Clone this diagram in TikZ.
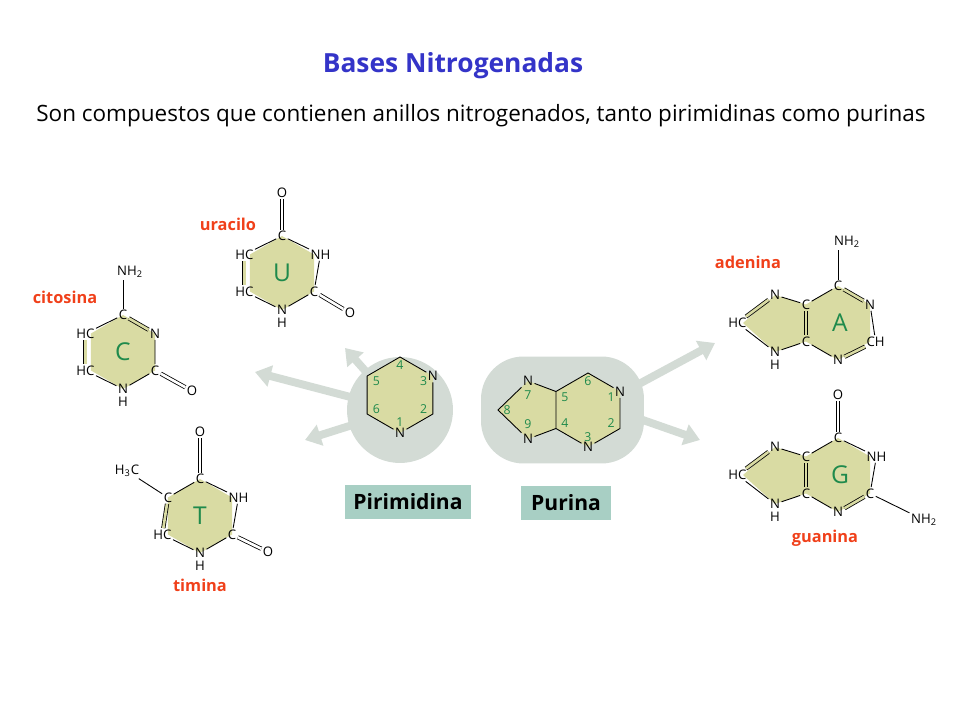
\documentclass[tikz,border=0pt]{standalone}
\usepackage{fontspec}
\setmainfont{Open Sans}
\usetikzlibrary{calc,positioning,arrows.meta}
\definecolor{ringfill}{HTML}{D9DBA3}
\definecolor{namered}{HTML}{F0401A}
\definecolor{letgreen}{HTML}{1F8A4C}
\definecolor{shade}{HTML}{D3DBD5}
\definecolor{boxfill}{HTML}{A8CFC4}
\definecolor{titleblue}{HTML}{3434C8}
\tikzset{
		>=Triangle,
		atom/.style={inner sep=0.7pt,font=\fontsize{7.5}{7.5}\selectfont},
		letter/.style={text=letgreen,font=\fontsize{14}{14}\selectfont},
		num/.style={text=letgreen,inner sep=0pt,font=\fontsize{7}{7}\selectfont},
		bond/.style={draw=black,line width=0.5pt},
		dbl/.style={draw=black,double=ringfill,double distance=1.5pt,line width=0.45pt},
		dblo/.style={draw=black,double=white,double distance=1.5pt,line width=0.45pt},
		basename/.style={text=namered,font=\fontsize{9.3}{9.3}\selectfont\bfseries},
		fat/.style={draw=shade,line width=4.5pt,-{Triangle[length=9pt,width=12pt]}},
		tag/.style={fill=boxfill,font=\fontsize{12}{12}\selectfont\bfseries,inner sep=0pt}
	}
\newcommand\ringpts[4]{\foreach \k in {1,...,6}{\coordinate (#1\k) at ($(#2,#3)+(150-60*\k:#4)$);}}

\begin{document}
\begin{tikzpicture}[x=0.02cm,y=0.02cm]
          \useasboundingbox (0,0) rectangle (960,720);

          % titles
          \node[text=titleblue,font=\fontsize{15}{15}\selectfont\bfseries] (title) at (453,654) {Bases Nitrogenadas};
          \node[font=\fontsize{12.8}{12.8}\selectfont] (subtitle) at (481,604) {Son compuestos que contienen anillos nitrogenados, tanto pirimidinas como purinas};

          % arrows behind the central shapes
          \coordinate (pyc) at (400,310);
          \coordinate (puc) at (600,315);
          \coordinate (toC) at (255,348);
          \coordinate (toU) at (345,372);
          \coordinate (toT) at (305,280);
          \coordinate (toA) at (715,377);
          \coordinate (toG) at (700,280);
          \draw[fat] (pyc) -- (toC);
          \draw[fat] (pyc) -- (toU);
          \draw[fat] (pyc) -- (toT);
          \draw[fat] (puc) -- (toA);
          \draw[fat] (puc) -- (toG);

          \node[circle,fill=shade,minimum size=2.12cm,inner sep=0pt] (pyshade) at (pyc) {};
          \node[rectangle,rounded corners=0.85cm,fill=shade,minimum width=3.26cm,minimum height=2.14cm] (pushade) at (562.5,310) {};

          % pirimidina
          \ringpts{pm}{400}{325}{38}
          \fill[ringfill] (pm1)--(pm2)--(pm3)--(pm4)--(pm5)--(pm6)--cycle;
          \node[atom] (pmN3) at (pm2) {N};
          \node[atom] (pmN1) at (pm4) {N};
          \draw[bond] (pm6) -- (pm1) -- (pmN3) -- (pm3) -- (pmN1) -- (pm5) -- (pm6);
          \node[num] at ($(400,325)!0.78!(pm1)$) {4};
          \node[num] at ($(400,325)!0.72!(pm2)$) {3};
          \node[num] at ($(400,325)!0.72!(pm3)$) {2};
          \node[num] at ($(400,325)!0.72!(pm4)$) {1};
          \node[num] at ($(400,325)!0.72!(pm5)$) {6};
          \node[num] at ($(400,325)!0.72!(pm6)$) {5};

          % purina
          \ringpts{pu}{588}{310}{37}
          \coordinate (pu7) at (528,339);
          \coordinate (pu8) at (498,310);
          \coordinate (pu9) at (528,281);
          \fill[ringfill] (pu1)--(pu2)--(pu3)--(pu4)--(pu5)--(pu9)--(pu8)--(pu7)--(pu6)--cycle;
          \node[atom] (puN1) at (pu2) {N};
          \node[atom] (puN3) at (pu4) {N};
          \node[atom] (puN7) at (pu7) {N};
          \node[atom] (puN9) at (pu9) {N};
          \draw[bond] (pu6) -- (pu1) -- (puN1) -- (pu3) -- (puN3) -- (pu5) -- (pu6);
          \draw[bond] (pu6) -- (puN7) -- (pu8) -- (puN9) -- (pu5);
          \node[num] at ($(588,310)!0.78!(pu1)$) {6};
          \node[num] at ($(588,310)!0.72!(pu2)$) {1};
          \node[num] at ($(588,310)!0.72!(pu3)$) {2};
          \node[num] at ($(588,310)!0.72!(pu4)$) {3};
          \node[num] at ($(588,310)!0.72!(pu5)$) {4};
          \node[num] at ($(588,310)!0.72!(pu6)$) {5};
          \node[num] [below=2pt of puN7] {7};
          \node[num] [right=3pt of pu8] {8};
          \node[num] [above=2pt of puN9] {9};

          \node[tag,minimum width=2.52cm,minimum height=0.68cm] (pirim) at (408,218) {Pirimidina};
          \node[tag,minimum width=1.8cm,minimum height=0.68cm] (purin) at (566,217) {Purina};

          % citosina
          \ringpts{cy}{123}{368}{37}
          \fill[ringfill] (cy1)--(cy2)--(cy3)--(cy4)--(cy5)--(cy6)--cycle;
          \node[atom] (cyC1) at (cy1) {C};
          \node[atom] (cyN2) at (cy2) {N};
          \node[atom] (cyC3) at (cy3) {C};
          \node[atom] (cyN4) at (cy4) {N};
          \node[atom] (cyH) [below=0pt of cyN4] {H};
          \node[atom,anchor=east] (cyC5) at ($(cy5)+(5,0)$) {HC};
          \node[atom,anchor=east] (cyC6) at ($(cy6)+(5,0)$) {HC};
          \node[atom] (cyNH) at (130,448) {NH\textsubscript{2}};
          \node[atom] (cyO) at (192,329) {O};
          \node[letter] at (123,368) {C};
          \draw[dbl] (cyC1) -- (cyN2);
          \draw[bond] (cyN2) -- (cyC3) -- (cyN4) -- (cyC5);
          \draw[dbl] (cyC5) -- (cyC6);
          \draw[bond] (cyC6) -- (cyC1);
          \draw[bond] (cyC1) -- (cyC1 |- cyNH.south);
          \draw[dblo] (cyC3) -- (cyO);
          \node[basename] (cyname) at (65,423) {citosina};

          % uracilo
          \ringpts{ur}{282}{447}{37}
          \fill[ringfill] (ur1)--(ur2)--(ur3)--(ur4)--(ur5)--(ur6)--cycle;
          \node[atom] (urC1) at (ur1) {C};
          \node[atom,anchor=west] (urN2) at ($(ur2)+(-5,0)$) {NH};
          \node[atom] (urC3) at (ur3) {C};
          \node[atom] (urN4) at (ur4) {N};
          \node[atom] (urH) [below=0pt of urN4] {H};
          \node[atom,anchor=east] (urC5) at ($(ur5)+(5,0)$) {HC};
          \node[atom,anchor=east] (urC6) at ($(ur6)+(5,0)$) {HC};
          \node[atom] (urO1) at (282,527) {O};
          \node[atom] (urO3) at (350,407) {O};
          \node[letter] at (282,447) {U};
          \draw[bond] (urC1) -- (urN2) -- (urC3) -- (urN4) -- (urC5);
          \draw[dbl] (urC5) -- (urC6);
          \draw[bond] (urC6) -- (urC1);
          \draw[dblo] (urC1) -- (urO1);
          \draw[dblo] (urC3) -- (urO3);
          \node[basename] (urname) at (228,496) {uracilo};

          % timina
          \ringpts{th}{200}{204}{37}
          \fill[ringfill] (th1)--(th2)--(th3)--(th4)--(th5)--(th6)--cycle;
          \node[atom] (thC1) at (th1) {C};
          \node[atom,anchor=west] (thN2) at ($(th2)+(-5,0)$) {NH};
          \node[atom] (thC3) at (th3) {C};
          \node[atom] (thN4) at (th4) {N};
          \node[atom] (thH) [below=0pt of thN4] {H};
          \node[atom,anchor=east] (thC5) at ($(th5)+(5,0)$) {HC};
          \node[atom] (thC6) at (th6) {C};
          \node[atom] (thO1) at (200,288) {O};
          \node[atom] (thO3) at (268,168) {O};
          \node[atom] (thMe) at (127,249) {H\textsubscript{3}C};
          \node[letter] at (200,204) {T};
          \draw[bond] (thC1) -- (thN2) -- (thC3) -- (thN4) -- (thC5);
          \draw[dbl] (thC5) -- (thC6);
          \draw[bond] (thC6) -- (thC1);
          \draw[bond] (thC6) -- (thMe);
          \draw[dblo] (thC1) -- (thO1);
          \draw[dblo] (thC3) -- (thO3);
          \node[basename] (thname) at (200,135) {timina};

          % adenina
          \ringpts{ad}{838}{397}{37}
          \fill[ringfill] (ad1)--(ad2)--(ad3)--(ad4)--(ad5)--(775,368)--(743,397)--(775,425)--(ad6)--cycle;
          \node[atom] (adC1) at (ad1) {C};
          \node[atom] (adN2) at (ad2) {N};
          \node[atom,anchor=west] (adC3) at ($(ad3)+(-5,0)$) {CH};
          \node[atom] (adN4) at (ad4) {N};
          \node[atom] (adC5) at (ad5) {C};
          \node[atom] (adC6) at (ad6) {C};
          \node[atom] (adN7) at (775,425) {N};
          \node[atom,anchor=east] (adC8) at (748,397) {HC};
          \node[atom] (adN9) at (775,368) {N};
          \node[atom] (adH) [below=0pt of adN9] {H};
          \node[atom] (adNH) at (847,478) {NH\textsubscript{2}};
          \node[letter] at (840,397) {A};
          \draw[dbl] (adC1) -- (adN2);
          \draw[bond] (adN2) -- (adC3);
          \draw[dbl] (adC3) -- (adN4);
          \draw[bond] (adN4) -- (adC5);
          \draw[dbl] (adC5) -- (adC6);
          \draw[bond] (adC6) -- (adC1);
          \draw[bond] (adC6) -- (adN7);
          \draw[dbl] (adN7) -- (adC8);
          \draw[bond] (adC8) -- (adN9) -- (adC5);
          \draw[bond] (adC1) -- (adC1 |- adNH.south);
          \node[basename] (adname) at (748,458) {adenina};

          % guanina
          \ringpts{gu}{838}{245}{37}
          \fill[ringfill] (gu1)--(gu2)--(gu3)--(gu4)--(gu5)--(775,216)--(743,245)--(775,273)--(gu6)--cycle;
          \node[atom] (guC1) at (gu1) {C};
          \node[atom,anchor=west] (guN2) at ($(gu2)+(-5,0)$) {NH};
          \node[atom] (guC3) at (gu3) {C};
          \node[atom] (guN4) at (gu4) {N};
          \node[atom] (guC5) at (gu5) {C};
          \node[atom] (guC6) at (gu6) {C};
          \node[atom] (guN7) at (775,273) {N};
          \node[atom,anchor=east] (guC8) at (748,245) {HC};
          \node[atom] (guN9) at (775,216) {N};
          \node[atom] (guH) [below=0pt of guN9] {H};
          \node[atom] (guO) at (838,325) {O};
          \node[atom] (guNH) at (924,200) {NH\textsubscript{2}};
          \node[letter] at (840,245) {G};
          \draw[bond] (guC1) -- (guN2) -- (guC3);
          \draw[dbl] (guC3) -- (guN4);
          \draw[bond] (guN4) -- (guC5);
          \draw[dbl] (guC5) -- (guC6);
          \draw[bond] (guC6) -- (guC1);
          \draw[bond] (guC6) -- (guN7);
          \draw[dbl] (guN7) -- (guC8);
          \draw[bond] (guC8) -- (guN9) -- (guC5);
          \draw[dblo] (guC1) -- (guO);
          \draw[bond] (guC3) -- (guNH);
          \node[basename] (guname) at (825,182) {guanina};

          \end{tikzpicture}
\end{document}
